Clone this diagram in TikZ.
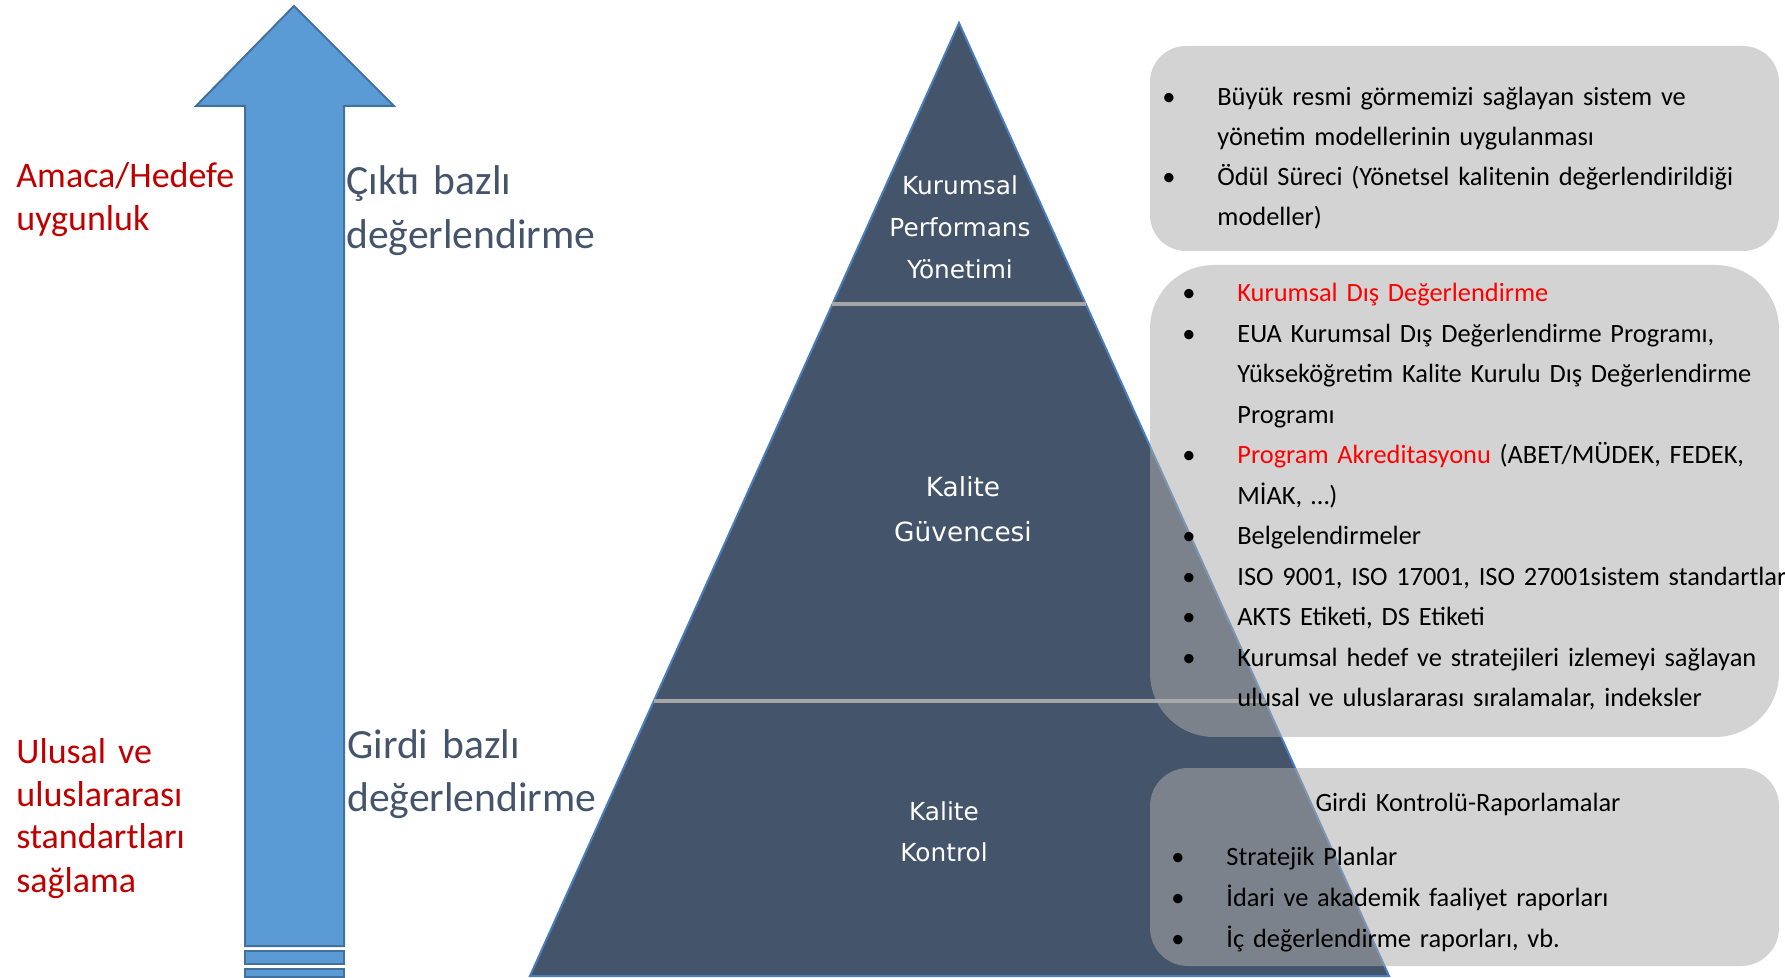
\documentclass[tikz,border=0pt]{standalone}
\usepackage{fontspec}
\setmainfont{Carlito}
\newfontfamily\pyrfont{DejaVu Sans}
\usepackage{xcolor}
\usepackage{tikz}
\usetikzlibrary{calc}

\definecolor{arrowblue}{HTML}{5B9BD5}
\definecolor{arrowedge}{HTML}{41719C}
\definecolor{slate}{HTML}{44546A}
\definecolor{edgeblue}{HTML}{4A7EBB}
\definecolor{divgray}{HTML}{A6A6A6}
\definecolor{boxgray}{RGB}{172,172,172}
\definecolor{labelred}{HTML}{C00000}

\tikzset{
  arrowpart/.style={fill=arrowblue,draw=arrowedge,line width=1pt},
  pyramid/.style={fill=slate,draw=edgeblue,line width=1pt},
  divider/.style={draw=divgray,line width=2pt},
  infobox/.style={fill=boxgray,fill opacity=0.53},
  redlabel/.style={anchor=base west,inner sep=0pt,text width=120pt,align=left,
    text=labelred,font=\fontsize{18}{21.5}\selectfont},
  phaselabel/.style={anchor=base west,inner sep=0pt,text width=140pt,align=left,
    text=slate,font=\fontsize{20.8}{27}\selectfont},
  pyrlabel/.style={anchor=base,inner sep=0pt,text width=100pt,align=center,
    text=white,font=\pyrfont\fontsize{12.4}{20.8}\selectfont},
  boxtext/.style={anchor=base west,inner sep=0pt,text width=330pt,align=left,
    font=\fontsize{13.2}{20.25}\selectfont}
}
\newcommand{\bul}{\leavevmode\llap{\textbullet\hspace{21pt}}}

\begin{document}
\begin{tikzpicture}[x=0.5pt,y=-0.5pt]
    \useasboundingbox (0,0) rectangle (1785,978);
    % arrow
    \draw[arrowpart] (294,6) -- (394,106) -- (344,106) -- (344,946) -- (245,946) -- (245,106) -- (196,106) -- cycle;
    \draw[arrowpart] (245,951) rectangle (344,964);
    \draw[arrowpart] (245,969) rectangle (344,977);
    \node[redlabel] (aimfit) at (16,188) {Amaca/Hedefe\\uygunluk};
    \node[redlabel] (stdfit) at (16,763) {Ulusal ve\\uluslararası\\standartları\\sağlama};
    \node[phaselabel] (outputeval) at (346,195) {Çıktı bazlı\\değerlendirme};
    \node[phaselabel] (inputeval) at (347,758) {Girdi bazlı\\değerlendirme};
    % pyramid
    \coordinate (apex) at (959,23);
    \coordinate (lcorner) at (530,976);
    \coordinate (rcorner) at (1389,976);
    \draw[pyramid] (apex) -- (lcorner) -- (rcorner) -- cycle;
    \draw[divider] ($(apex)!0.295!(lcorner)$) -- ($(apex)!0.295!(rcorner)$);
    \draw[divider] ($(apex)!0.711!(lcorner)$) -- ($(apex)!0.711!(rcorner)$);
    \node[pyrlabel] (perf) at (960,195) {Kurumsal\\Performans\\Yönetimi};
    \node[pyrlabel,font=\pyrfont\fontsize{13.2}{22.5}\selectfont] (assur) at (963,497) {Kalite\\Güvencesi};
    \node[pyrlabel] (control) at (944,820) {Kalite\\Kontrol};
    % boxes
    \fill[infobox,rounded corners=18pt] (1150,46) rectangle (1779,251);
    \fill[infobox,rounded corners=32pt] (1150,265) rectangle (1779,737);
    \fill[infobox,rounded corners=19pt] (1150,768) rectangle (1779,966);
    \node[boxtext,font=\fontsize{13.2}{19.9}\selectfont] (perfitems) at (1217,106)
      {\bul Büyük resmi görmemizi sağlayan sistem ve\\
       yönetim modellerinin uygulanması\\
       \bul Ödül Süreci (Yönetsel kalitenin değerlendirildiği\\
       modeller)};
    \node[boxtext] (assuritems) at (1237,302)
      {\bul\textcolor{red}{Kurumsal Dış Değerlendirme}\\
       \bul EUA Kurumsal Dış Değerlendirme Programı,\\
       Yükseköğretim Kalite Kurulu Dış Değerlendirme\\
       Programı\\
       \bul\textcolor{red}{Program Akreditasyonu} (ABET/MÜDEK, FEDEK,\\
       MİAK, …)\\
       \bul Belgelendirmeler\\
       \bul ISO 9001, ISO 17001, ISO 27001sistem standartlar\\
       \bul AKTS Etiketi, DS Etiketi\\
       \bul Kurumsal hedef ve stratejileri izlemeyi sağlayan\\
       ulusal ve uluslararası sıralamalar, indeksler};
    \node[boxtext,anchor=base,text width=200pt,align=center] (controltitle) at (1468,812) {Girdi Kontrolü-Raporlamalar};
    \node[boxtext,font=\fontsize{13.2}{20.5}\selectfont] (controlitems) at (1226,865)
      {\bul Stratejik Planlar\\
       \bul İdari ve akademik faaliyet raporları\\
       \bul İç değerlendirme raporları, vb.};
  \end{tikzpicture}
\end{document}
